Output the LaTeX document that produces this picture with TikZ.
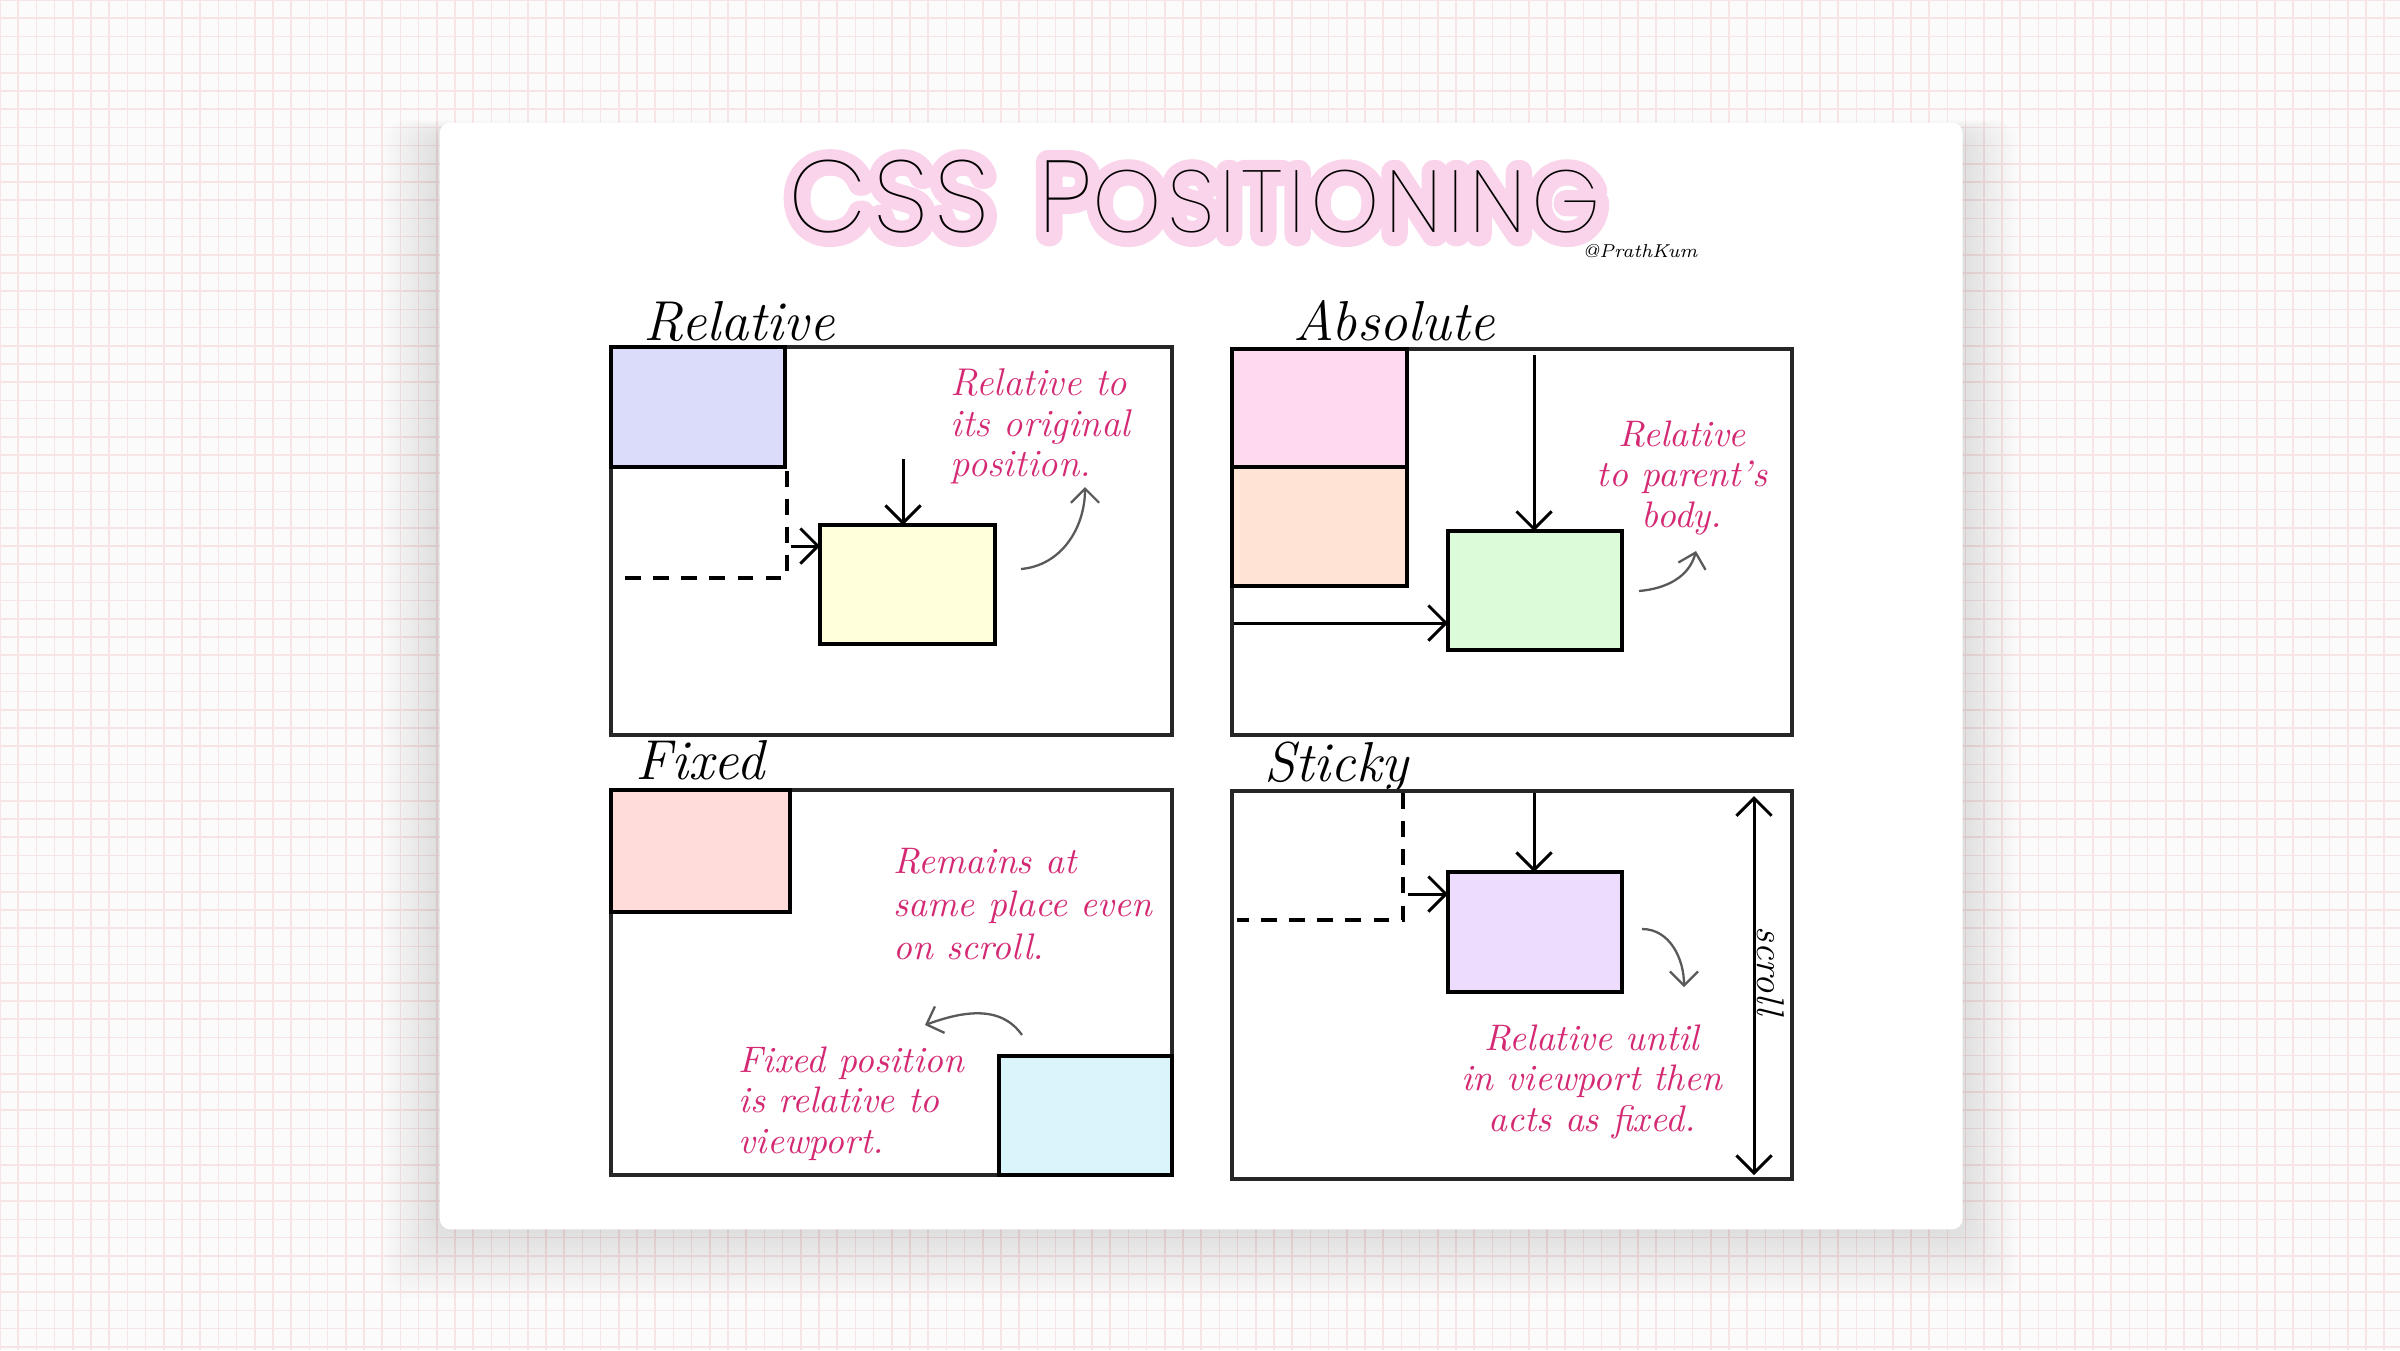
\documentclass[tikz,border=0pt]{standalone}
\usepackage{fontspec}
\usetikzlibrary{arrows.meta}
\newfontfamily\titlefont{Poppins Thin}[LetterSpace=6]
\definecolor{bgc}{HTML}{FCFBFB}
\definecolor{gridc}{HTML}{F7E4E4}
\definecolor{halo}{HTML}{FAD4EB}
\definecolor{notepink}{HTML}{D42A74}
\definecolor{cblue}{HTML}{DADCFA}
\definecolor{cyellow}{HTML}{FFFFDC}
\definecolor{cpink}{HTML}{FFD9F0}
\definecolor{cpeach}{HTML}{FFE4D6}
\definecolor{cgreen}{HTML}{DCFBD8}
\definecolor{csalmon}{HTML}{FFDCDA}
\definecolor{ccyan}{HTML}{DAF4FC}
\definecolor{cpurple}{HTML}{EDDCFB}
\newcommand\titletext{\fontsize{29}{29}\selectfont CSS\hspace{4pt} P\fontsize{25}{25}\selectfont OSITIONING}
\newcommand\strokeon{\special{pdf:literal direct 1 j 1 J 7 w 2 Tr}}
\newcommand\strokeoff{\special{pdf:literal direct 0 Tr}}
\begin{document}
\begin{tikzpicture}[x=0.01cm,y=-0.01cm,
  frame/.style={draw=black!85, line width=1.1pt, inner sep=0, outer sep=0, anchor=north west},
  cbox/.style={draw=black, line width=1pt, inner sep=0, outer sep=0, anchor=north west, minimum width=1.75cm, minimum height=1.2cm},
  arr/.style={-{Straight Barb[length=5pt,width=10pt]}, line width=0.85pt},
  darr/.style={{Straight Barb[length=5pt,width=10pt]}-{Straight Barb[length=5pt,width=10pt]}, line width=0.85pt},
  garr/.style={-{Straight Barb[length=4pt,width=8pt]}, line width=0.65pt, draw=black!65},
  dashln/.style={dash pattern=on 4.5pt off 3.5pt, line width=0.9pt},
  note/.style={text=notepink, font=\itshape\fontsize{10.5}{11.5}\selectfont, inner sep=0},
  lbl/.style={font=\itshape\fontsize{16}{16}\selectfont, inner sep=0, anchor=base west}]
\useasboundingbox (0,0) rectangle (2400,1350);
% background and grid
\fill[bgc] (0,0) rectangle (2400,1350);
\foreach \i in {0,...,132} \draw[gridc, line width=0.45pt] (\i*18.2,0) -- (\i*18.2,1350);
\foreach \j in {0,...,74} \draw[gridc, line width=0.45pt] (0,\j*18.2) -- (2400,\j*18.2);
% card shadow
\foreach \k in {1,...,14} \fill[black, opacity=0.009, rounded corners=6pt] (439-\k*4,122-\k*1+12) rectangle (1961+\k*4,1228+\k*5);
\node[fill=white, anchor=north west, minimum width=15.22cm, minimum height=11.06cm, inner sep=0, rounded corners=3pt] (card) at (439,122) {};
% title with pink marker halo (stroked text)
\node[anchor=base, text=halo, draw=none] (titlehalo) at (1196,234) {\titlefont\strokeon\titletext\strokeoff};
\node[anchor=base] (title) at (1195,232) {\titlefont\titletext};
\node[font=\itshape\fontsize{5.3}{5.3}\selectfont, anchor=base] (handle) at (1640,257) {@PrathKum};
% panel labels
\node[lbl] (lrel) at (643,340) {Relative};
\node[lbl] (labs) at (1293,340) {Absolute};
\node[lbl] (lfix) at (635,779) {Fixed};
\node[lbl] (lsti) at (1264,781) {Sticky};
% frames
\node[frame, minimum width=5.61cm, minimum height=3.88cm] (prel) at (611,347) {};
\node[frame, minimum width=5.60cm, minimum height=3.86cm] (pabs) at (1232,349) {};
\node[frame, minimum width=5.61cm, minimum height=3.85cm] (pfix) at (611,790) {};
\node[frame, minimum width=5.60cm, minimum height=3.88cm] (psti) at (1232,791) {};
% ---------- Relative ----------
\node[cbox, fill=cblue, minimum width=1.74cm] (blue) at (611,347) {};
\node[cbox, fill=cyellow, minimum height=1.19cm] (yel) at (820,525) {};
\coordinate (rdn) at (903,459);
\draw[arr] (rdn) -- (rdn |- yel.north);
\coordinate (rdh) at (617,578);
\coordinate (rdv) at (787,471);
\draw[dashln] (rdv) -- (rdv |- rdh) -- (rdh);
\coordinate (rsa) at (791,546);
\draw[arr] (rsa) -- (rsa -| yel.west);
\node[note, anchor=north west, align=left, font=\itshape\fontsize{11}{11.5}\selectfont] (nrel) at (950,368) {Relative to\\its original\\position.};
\coordinate (rc1) at (1021,569);
\coordinate (rc2) at (1085,487);
\draw[garr] (rc1) to[out=5,in=-90] (rc2);
% ---------- Absolute ----------
\node[cbox, fill=cpink, minimum height=1.18cm] (pnk) at (1232,349) {};
\node[cbox, fill=cpeach, minimum height=1.19cm] (pch) at (1232,467) {};
\node[cbox, fill=cgreen, minimum width=1.74cm, minimum height=1.19cm] (grn) at (1448,531) {};
\coordinate (adn) at (1534,355);
\draw[arr] (adn) -- (adn |- grn.north);
\coordinate (art) at (1234,623);
\draw[arr] (art) -- (art -| grn.west);
\node[note, anchor=north, align=center] (nabs) at (1682,420) {Relative\\to parent's\\body.};
\coordinate (ac1) at (1639,591);
\coordinate (ac2) at (1696,551);
\draw[garr] (ac1) to[out=5,in=-105] (ac2);
% ---------- Fixed ----------
\node[cbox, fill=csalmon, minimum width=1.79cm, minimum height=1.22cm] (sal) at (611,790) {};
\node[cbox, fill=ccyan, minimum width=1.73cm, minimum height=1.19cm] (cyn) at (999,1056) {};
\node[note, anchor=north west, align=left, font=\itshape\fontsize{10.5}{12.2}\selectfont] (nfix) at (893,848) {Remains at\\same place even\\on scroll.};
\coordinate (fc1) at (1022,1035);
\coordinate (fc2) at (925,1025);
\draw[garr] (fc1) to[out=125,in=20] (fc2);
\node[note, anchor=north west, align=left] (nfix2) at (738,1046) {Fixed position\\is relative to\\viewport.};
% ---------- Sticky ----------
\node[cbox, fill=cpurple, minimum width=1.74cm] (pur) at (1448,872) {};
\coordinate (sdn) at (1534,793);
\draw[arr] (sdn) -- (sdn |- pur.north);
\coordinate (sdv) at (1403,793);
\coordinate (sdh) at (1237,920);
\draw[dashln] (sdv) -- (sdv |- sdh) -- (sdh);
\coordinate (ssa) at (1408,894);
\draw[arr] (ssa) -- (ssa -| pur.west);
\coordinate (sc1) at (1642,929);
\coordinate (sc2) at (1684,987);
\draw[garr] (sc1) to[out=0,in=90] (sc2);
\coordinate (sct) at (1754,796);
\coordinate (scb) at (1754,1175);
\draw[darr] (sct) -- (scb);
\node[rotate=-90, font=\itshape\fontsize{11}{11}\selectfont, inner sep=0] (scroll) at (1771,971) {scroll};
\node[note, anchor=north, align=center] (nsti) at (1592,1024) {Relative until\\in viewport then\\acts as fixed.};
\end{tikzpicture}
\end{document}
